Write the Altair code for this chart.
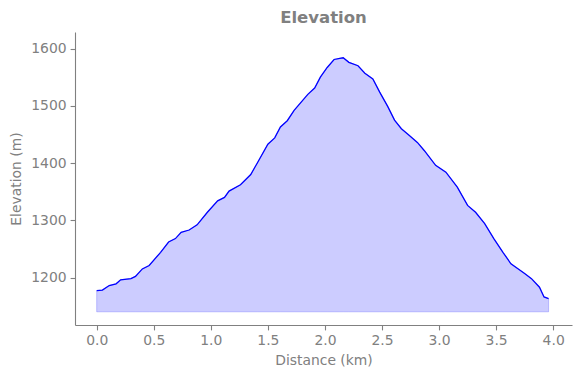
import altair as alt
import pandas as pd

distance_km = [0.00, 0.05, 0.11, 0.17, 0.21, 0.30, 0.34, 0.40, 0.46, 0.56,
               0.63, 0.69, 0.74, 0.81, 0.88, 0.97, 1.06, 1.12, 1.16, 1.26,
               1.35, 1.41, 1.50, 1.56, 1.61, 1.67, 1.73, 1.85, 1.91, 1.96,
               2.02, 2.08, 2.13, 2.16, 2.21, 2.29, 2.35, 2.42, 2.48, 2.55,
               2.61, 2.67, 2.74, 2.81, 2.87, 2.97, 3.06, 3.16, 3.25, 3.32,
               3.40, 3.48, 3.56, 3.63, 3.75, 3.81, 3.88, 3.92, 3.96]
elevation_m = [1177, 1178, 1186, 1189, 1196, 1198, 1202, 1215, 1221, 1244,
               1262, 1268, 1279, 1283, 1292, 1314, 1334, 1340, 1351, 1362,
               1380, 1401, 1433, 1444, 1463, 1474, 1492, 1520, 1531, 1550,
               1567, 1581, 1583, 1584, 1576, 1570, 1557, 1547, 1524, 1499,
               1475, 1460, 1448, 1436, 1422, 1396, 1384, 1358, 1326, 1314,
               1294, 1268, 1244, 1224, 1207, 1198, 1183, 1166, 1163]
baseline_m = 1140
x_ticks = [0.0, 0.5, 1.0, 1.5, 2.0, 2.5, 3.0, 3.5, 4.0]
y_ticks = [1200, 1300, 1400, 1500, 1600]

df = pd.DataFrame({"d": distance_km, "e": elevation_m})

GREY = "#808080"
FONT = "DejaVu Sans"

x_enc = alt.X("d:Q", title="Distance (km)",
              scale=alt.Scale(domain=[-0.19, 4.165], nice=False, zero=False),
              axis=alt.Axis(values=x_ticks, format=".1f", grid=False))
y_enc = alt.Y("e:Q", title="Elevation (m)",
              scale=alt.Scale(domain=[1117, 1629], nice=False, zero=False),
              axis=alt.Axis(values=y_ticks, format="d", grid=False))

area = alt.Chart(df).mark_area(
    color="#ccccff", stroke="#0000ff", strokeOpacity=0.2, strokeWidth=1, opacity=1
).encode(x=x_enc, y=y_enc, y2=alt.datum(baseline_m))

line = alt.Chart(df).mark_line(color="#0000ff", strokeWidth=1.3).encode(x=x_enc, y=y_enc)

chart = alt.layer(area, line).properties(
    width=497, height=293,
    title=alt.TitleParams("Elevation", font=FONT, fontSize=16.5, fontWeight="bold",
                          color=GREY, anchor="middle", offset=6),
    autosize=alt.AutoSizeParams(type="none"),
    padding={"left": 75, "top": 32, "right": 8, "bottom": 53},
).configure_view(stroke=None).configure_axis(
    labelFont=FONT, titleFont=FONT, labelFontSize=13.9, titleFontSize=13.9,
    labelColor=GREY, titleColor=GREY, domainColor=GREY, tickColor=GREY,
    tickSize=4.9, labelPadding=4, titleFontWeight="normal", domainWidth=1.1,
    tickWidth=1.1,
).configure_axisX(titlePadding=6).configure_axisY(titlePadding=7)

chart.save("out.html", embed_options={"renderer": "svg", "actions": False})
